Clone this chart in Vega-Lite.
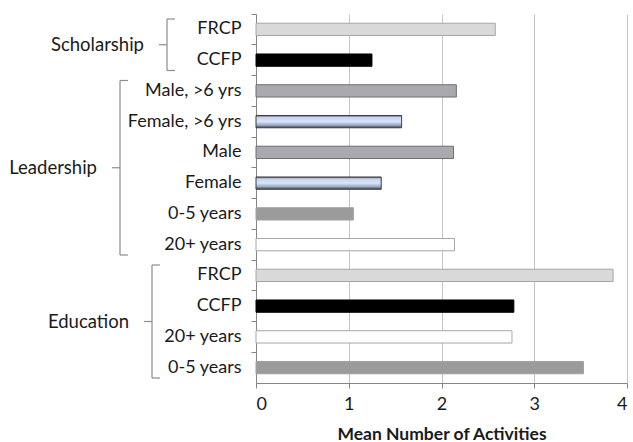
{
  "$schema": "https://vega.github.io/schema/vega-lite/v6.json",
  "padding": {"left": 5, "top": 13, "right": 5, "bottom": 5},
  "background": "white",
  "bounds": "flush",
  "spacing": 0,
  "config": {
    "view": {"stroke": null},
    "font": "Lato",
    "text": {"font": "Lato"}
  },
  "datasets": {
    "bars": [
      {"key": "Scholarship|FRCP", "series": "FRCP", "value": 2.58},
      {"key": "Scholarship|CCFP", "series": "CCFP", "value": 1.25},
      {"key": "Leadership|Male, >6 yrs", "series": "Male", "value": 2.16},
      {"key": "Leadership|Female, >6 yrs", "series": "Female", "value": 1.57},
      {"key": "Leadership|Male", "series": "Male", "value": 2.13},
      {"key": "Leadership|Female", "series": "Female", "value": 1.35},
      {"key": "Leadership|0-5 years", "series": "0-5 years", "value": 1.05},
      {"key": "Leadership|20+ years", "series": "20+ years", "value": 2.14},
      {"key": "Education|FRCP", "series": "FRCP", "value": 3.85},
      {"key": "Education|CCFP", "series": "CCFP", "value": 2.78},
      {"key": "Education|20+ years", "series": "20+ years", "value": 2.76},
      {"key": "Education|0-5 years", "series": "0-5 years", "value": 3.53}
    ],
    "groups": [
      {"group": "Scholarship", "start": 0, "end": 2, "mid": 1, "bx": 162},
      {"group": "Leadership", "start": 2, "end": 8, "mid": 5, "bx": 115},
      {"group": "Education", "start": 8, "end": 12, "mid": 10, "bx": 147}
    ]
  },
  "hconcat": [
    {
      "width": 251,
      "height": 369,
      "data": {"name": "groups"},
      "layer": [
        {
          "mark": {"type": "rule", "color": "#8c8c8c", "strokeWidth": 1.2, "yOffset": 5, "y2Offset": -5},
          "encoding": {
            "x": {"field": "bx", "type": "quantitative", "scale": {"domain": [0, 251], "nice": false, "zero": false}, "axis": null},
            "y": {"field": "start", "type": "quantitative", "scale": {"domain": [0, 12], "reverse": true, "nice": false}, "axis": null},
            "y2": {"field": "end"}
          }
        },
        {
          "mark": {"type": "rule", "color": "#8c8c8c", "strokeWidth": 1.2, "yOffset": 5, "x2Offset": 8},
          "encoding": {
            "x": {"field": "bx", "type": "quantitative", "scale": {"domain": [0, 251], "nice": false, "zero": false}, "axis": null},
            "x2": {"field": "bx"},
            "y": {"field": "start", "type": "quantitative", "scale": {"domain": [0, 12], "reverse": true, "nice": false}, "axis": null}
          }
        },
        {
          "mark": {"type": "rule", "color": "#8c8c8c", "strokeWidth": 1.2, "yOffset": -5, "x2Offset": 8},
          "encoding": {
            "x": {"field": "bx", "type": "quantitative", "scale": {"domain": [0, 251], "nice": false, "zero": false}, "axis": null},
            "x2": {"field": "bx"},
            "y": {"field": "end", "type": "quantitative", "scale": {"domain": [0, 12], "reverse": true, "nice": false}, "axis": null}
          }
        },
        {
          "mark": {"type": "rule", "color": "#8c8c8c", "strokeWidth": 1.2, "xOffset": -8},
          "encoding": {
            "x": {"field": "bx", "type": "quantitative", "scale": {"domain": [0, 251], "nice": false, "zero": false}, "axis": null},
            "x2": {"field": "bx"},
            "y": {"field": "mid", "type": "quantitative", "scale": {"domain": [0, 12], "reverse": true, "nice": false}, "axis": null}
          }
        },
        {
          "mark": {"type": "text", "align": "right", "baseline": "middle", "dx": -23, "fontSize": 18.5, "color": "#1a1a1a"},
          "encoding": {
            "x": {"field": "bx", "type": "quantitative", "scale": {"domain": [0, 251], "nice": false, "zero": false}, "axis": null},
            "y": {"field": "mid", "type": "quantitative", "scale": {"domain": [0, 12], "reverse": true, "nice": false}, "axis": null},
            "text": {"field": "group"}
          }
        }
      ]
    },
    {
      "width": 371,
      "height": 369,
      "data": {"name": "bars"},
      "encoding": {
        "y": {
          "field": "key", "type": "nominal", "sort": null,
          "scale": {
            "domain": ["Scholarship|FRCP", "Scholarship|CCFP", "Leadership|Male, >6 yrs", "Leadership|Female, >6 yrs", "Leadership|Male", "Leadership|Female", "Leadership|0-5 years", "Leadership|20+ years", "Education|FRCP", "Education|CCFP", "Education|20+ years", "Education|0-5 years"],
            "paddingInner": 0, "paddingOuter": 0
          },
          "axis": {
            "title": null,
            "labelExpr": "split(datum.label, '|')[1]",
            "labelFont": "Lato", "labelFontSize": 18, "labelColor": "#1a1a1a",
            "labelPadding": 10, "tickSize": 5, "bandPosition": 0,
            "tickColor": "#868686", "domainColor": "#868686", "grid": false
          }
        },
        "x": {
          "field": "value", "type": "quantitative",
          "scale": {"domain": [0, 4], "nice": false},
          "axis": {
            "title": "Mean Number of Activities",
            "titleFont": "Lato", "titleFontSize": 17.5, "titleFontWeight": "bold", "titleColor": "#1a1a1a", "titlePadding": 12,
            "values": [0, 1, 2, 3, 4], "format": "d",
            "labelFont": "Lato", "labelFontSize": 18, "labelColor": "#1a1a1a", "labelPadding": 7,
            "tickSize": 5, "tickColor": "#868686", "domainColor": "#868686",
            "grid": true, "gridColor": "#c4c4c4"
          }
        }
      },
      "layer": [
        {
          "transform": [{"filter": "datum.series !== 'Female'"}],
          "mark": {"type": "bar", "height": {"band": 0.4}, "strokeWidth": 1},
          "encoding": {
            "fill": {
              "field": "series", "type": "nominal", "legend": null,
              "scale": {"domain": ["FRCP", "CCFP", "Male", "0-5 years", "20+ years"], "range": ["#d9d9d9", "#000000", "#a9a9ae", "#9b9b9b", "#ffffff"]}
            },
            "stroke": {
              "field": "series", "type": "nominal", "legend": null,
              "scale": {"domain": ["FRCP", "CCFP", "Male", "0-5 years", "20+ years"], "range": ["#a6a6a6", "#000000", "#6e6e72", "#a0a0a0", "#a6a6a6"]}
            }
          }
        },
        {
          "transform": [{"filter": "datum.series === 'Female'"}],
          "mark": {
            "type": "bar", "height": {"band": 0.4}, "stroke": "#3c3f45", "strokeWidth": 1,
            "fill": {
              "gradient": "linear", "x1": 0, "y1": 0, "x2": 0, "y2": 1,
              "stops": [
                {"offset": 0, "color": "#4a4f58"},
                {"offset": 0.15, "color": "#c5d3f0"},
                {"offset": 0.5, "color": "#dbe4fa"},
                {"offset": 0.8, "color": "#9aa6bc"},
                {"offset": 1, "color": "#3a3f48"}
              ]
            }
          }
        }
      ]
    }
  ]
}
